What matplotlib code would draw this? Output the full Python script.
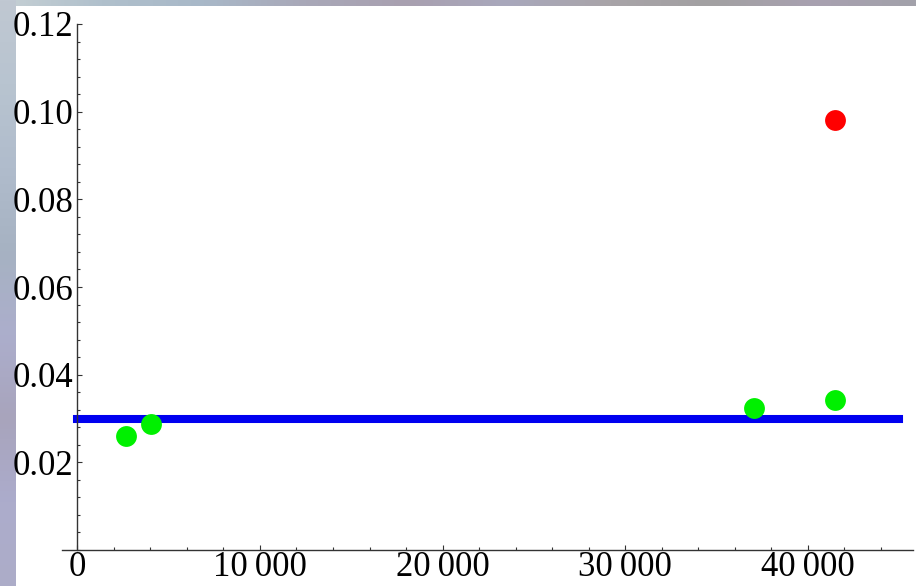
import numpy as np
import matplotlib.pyplot as plt
from matplotlib.ticker import MultipleLocator, FixedLocator

# measurements
green_x = [2650, 4020, 37050, 41500]
green_y = [0.0261, 0.0287, 0.0323, 0.0342]
red_x = [41500]
red_y = [0.0981]
limit_x = [0, 45000]
limit_y = [0.03, 0.03]

x_ticks = [0, 10000, 20000, 30000, 40000]
x_labels = ["0", "10\u2009000", "20\u2009000", "30\u2009000", "40\u2009000"]
y_ticks = [0.02, 0.04, 0.06, 0.08, 0.10, 0.12]
y_labels = ["0.02", "0.04", "0.06", "0.08", "0.10", "0.12"]

W, H = 916, 586
fig = plt.figure(figsize=(W / 100, H / 100), dpi=100)

# slide backdrop: bluish-grey strips on the left and top edges
def ramp(stops, n):
    pos = np.linspace(0, 1, len(stops))
    cols = np.array([[int(c[i:i + 2], 16) / 255 for i in (1, 3, 5)] for c in stops])
    t = np.linspace(0, 1, n)
    return np.stack([np.interp(t, pos, cols[:, k]) for k in range(3)], axis=1)

bg = np.ones((H, W, 3))
top = ramp(["#c6d0d4", "#b0c0cc", "#a8b8c8", "#a8a8b8", "#a8a0b0",
            "#a8a8bc", "#a8a4a8", "#a2a0a2", "#a8a0b0", "#a2a2aa"], W)
bg[:6, :, :] = top[None, :, :]
side = ramp(["#c0c8d2", "#b8c4d0", "#b0bccc", "#a6b2c2", "#acaecc",
             "#a8a4bc", "#acaccc", "#acacc8"], H)
bg[:, :16, :] = side[:, None, :]
fig.figimage(bg, 0, 0, origin="upper", zorder=0)

ax = fig.add_axes([62 / W, 36 / H, 851 / W, 526 / H])
ax.set_zorder(1)
ax.patch.set_visible(False)
ax.set_xlim(-838, 45760)
ax.set_ylim(0, 0.12)

ax.plot(limit_x, limit_y, color="#0000f0", lw=5.8, solid_capstyle="projecting", zorder=2)
ax.plot(green_x, green_y, "o", color="#00f000", ms=15, mec="none", zorder=3)
ax.plot(red_x, red_y, "o", color="#ff0000", ms=15, mec="none", zorder=3)

for s in ["top", "right"]:
    ax.spines[s].set_visible(False)
ax.spines["left"].set_position(("data", 0))
ax.spines["bottom"].set_position(("data", 0))
ax.spines["left"].set_bounds(0, 0.12)
for s in ["left", "bottom"]:
    ax.spines[s].set_color("#333333")
    ax.spines[s].set_linewidth(1.0)

serif = ["Liberation Serif", "DejaVu Serif"]
ax.xaxis.set_major_locator(FixedLocator(x_ticks))
ax.set_xticklabels(x_labels, family=serif, fontsize=25)
ax.yaxis.set_major_locator(FixedLocator(y_ticks))
ax.set_yticklabels(y_labels, family=serif, fontsize=25)
ax.xaxis.set_minor_locator(MultipleLocator(2000))
ax.yaxis.set_minor_locator(MultipleLocator(0.004))

ax.tick_params(which="both", direction="in", color="#333333", width=0.8)
ax.tick_params(which="major", length=3.6)
ax.tick_params(which="minor", length=2)
ax.tick_params(axis="y", which="major", pad=3)
ax.tick_params(axis="x", which="major", pad=1)

fig.savefig("out.png", dpi=100)
